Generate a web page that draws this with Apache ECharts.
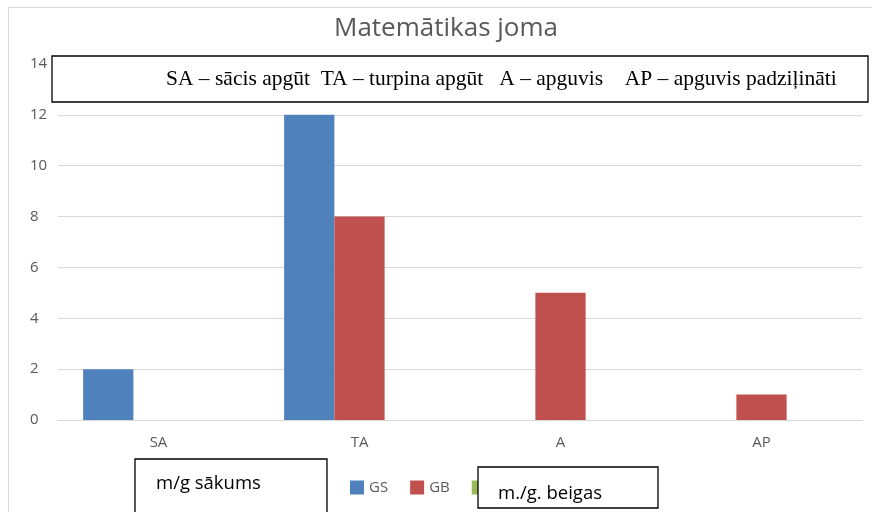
<!DOCTYPE html>
<html>
<head>
<meta charset="utf-8">
<script src="https://cdn.jsdelivr.net/npm/echarts@6/dist/echarts.min.js"></script>
<style>
  html, body { margin: 0; padding: 0; background: #fff; }
  #chart { width: 872px; height: 512px; }
</style>
</head>
<body>
<div id="chart"></div>
<script>
const categories = ['SA', 'TA', 'A', 'AP'];
const seriesNames = ['GS', 'GB', 'Series3'];
const gsValues = [2, 12, 0, 0];
const gbValues = [0, 8, 5, 1];
const thirdValues = [0, 0, 0, 0];
const yTicks = [0, 2, 4, 6, 8, 10, 12, 14];

const colors = ['#4F81BD', '#C0504D', '#9BBB59'];
const labelFont = '"Open Sans", sans-serif';

const chart = echarts.init(document.getElementById('chart'));

// white box with a black border and text, drawn over the chart
function noteBox(x, y, w, h, text, tx, ty, font) {
    return {
        type: 'group', z: 100,
        children: [
            {
                type: 'rect', z: 100,
                shape: { x: x, y: y, width: w, height: h },
                style: { fill: '#fff', stroke: '#000', lineWidth: 1.3 }
            },
            {
                type: 'text', z: 101, x: tx, y: ty,
                style: { text: text, font: font, fill: '#000', verticalAlign: 'middle' }
            }
        ]
    };
}

const option = {
    animation: false,
    color: colors,
    title: {
        text: 'Matemātikas joma',
        left: 329,
        top: 11,
        textStyle: {
            fontFamily: labelFont,
            fontWeight: 'normal',
            fontSize: 26,
            color: '#595959'
        }
    },
    legend: {
        data: seriesNames,
        left: 345,
        top: 475,
        icon: 'rect',
        itemWidth: 14,
        itemHeight: 14,
        itemGap: 22,
        textStyle: {
            fontFamily: labelFont,
            fontSize: 15,
            color: '#595959'
        }
    },
    grid: {
        left: 58,
        right: 10,
        top: 64,
        bottom: 92,
        containLabel: false
    },
    xAxis: {
        type: 'category',
        data: categories,
        axisLine: { lineStyle: { color: '#d9d9d9' } },
        axisTick: { show: false },
        axisLabel: {
            margin: 15,
            fontFamily: labelFont,
            fontSize: 15,
            color: '#595959'
        }
    },
    yAxis: {
        type: 'value',
        min: yTicks[0],
        max: yTicks[yTicks.length - 1],
        interval: 2,
        axisLine: { show: false },
        axisTick: { show: false },
        splitLine: { lineStyle: { color: '#d9d9d9' } },
        axisLabel: {
            margin: 28,
            align: 'left',
            fontFamily: labelFont,
            fontSize: 15,
            color: '#595959'
        }
    },
    series: [
        { name: seriesNames[0], type: 'bar', data: gsValues, barGap: 0, barCategoryGap: '25%' },
        { name: seriesNames[1], type: 'bar', data: gbValues, barGap: 0, barCategoryGap: '25%' },
        { name: seriesNames[2], type: 'bar', data: thirdValues, barGap: 0, barCategoryGap: '25%' }
    ],
    graphic: [
        // outer chart frame
        {
            type: 'rect', z: 0, silent: true,
            shape: { x: 8.5, y: 7.5, width: 900, height: 600 },
            style: { fill: 'none', stroke: '#d9d9d9', lineWidth: 1 }
        },
        noteBox(52, 56, 816, 46,
            'SA – sācis apgūt  TA – turpina apgūt   A – apguvis    AP – apguvis padziļināti',
            166, 79, '21.5px "Liberation Serif", serif'),
        noteBox(135, 459, 192, 70, 'm/g sākums', 156, 484, '18.5px "Open Sans", sans-serif'),
        noteBox(478, 467, 180, 41, 'm./g. beigas', 498, 494, '18.5px "Open Sans", sans-serif')
    ]
};

chart.setOption(option);
</script>
</body>
</html>
